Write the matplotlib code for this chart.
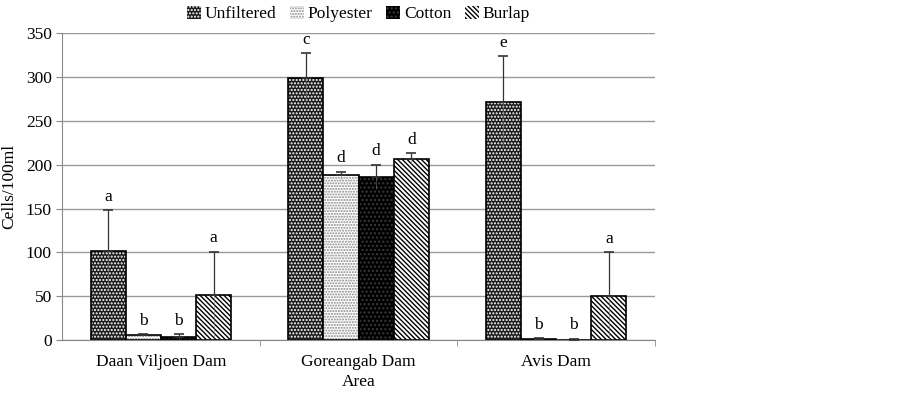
import numpy as np
import matplotlib.pyplot as plt
from matplotlib.patches import Patch

plt.rcParams['font.family'] = ['Liberation Serif', 'DejaVu Serif']
plt.rcParams['hatch.linewidth'] = 1.0

areas = ['Daan Viljoen Dam', 'Goreangab Dam', 'Avis Dam']
series = ['Unfiltered', 'Polyester', 'Cotton', 'Burlap']

unfiltered = [102, 299, 271]
polyester = [6, 188, 2]
cotton = [4, 186, 1]
burlap = [52, 206, 50]

unfiltered_err = [46, 28, 52]
polyester_err = [1, 4, 1]
cotton_err = [3, 14, 1]
burlap_err = [49, 7, 50]

unfiltered_lbl = ['a', 'c', 'e']
polyester_lbl = ['b', 'd', 'b']
cotton_lbl = ['b', 'd', 'b']
burlap_lbl = ['a', 'd', 'a']

values = [unfiltered, polyester, cotton, burlap]
errors = [unfiltered_err, polyester_err, cotton_err, burlap_err]
labels = [unfiltered_lbl, polyester_lbl, cotton_lbl, burlap_lbl]

# face, hatch colour, hatch
styles = [
    ('#1c1c1c', 'white', '.....'),
    ('white', '#888888', '......'),
    ('black', '#3a3a3a', '....'),
    ('white', 'black', '\\' * 7),
]

fig = plt.figure(figsize=(9.02, 3.94), dpi=100)
ax = fig.add_axes([0.069, 0.136, 0.657, 0.781])

x = np.arange(len(areas))
w = 0.178
offsets = [-1.5, -0.5, 0.5, 1.5]

handles = []
for i in range(4):
    xs = x + offsets[i] * w
    face, hc, hatch = styles[i]
    # pattern fill
    ax.bar(xs, values[i], w, facecolor=face, edgecolor=hc, hatch=hatch,
           linewidth=0, zorder=2)
    # outline
    ax.bar(xs, values[i], w, fill=False, edgecolor='black', linewidth=1.2, zorder=2)
    # upper error with cap
    ax.errorbar(xs, values[i], yerr=[np.zeros(3), errors[i]], fmt='none',
                ecolor='#333333', elinewidth=0.9, capsize=3.5, capthick=1.2, zorder=3)
    # lower half without cap
    ax.errorbar(xs, values[i], yerr=[errors[i], np.zeros(3)], fmt='none',
                ecolor='#777777', elinewidth=0.6, capsize=0, zorder=3, alpha=0.6)
    for j in range(3):
        ax.text(xs[j], values[i][j] + errors[i][j] + 6, labels[i][j],
                ha='center', va='bottom', fontsize=12.5)
    handles.append(Patch(facecolor=face, edgecolor=hc, hatch=hatch, linewidth=0))

ax.set_ylim(0, 350)
ax.set_yticks(range(0, 351, 50))
ax.set_xlim(-0.5, 2.5)
ax.set_xticks(x)
ax.set_xticklabels(areas)
ax.set_xticks([0.5, 1.5, 2.5], minor=True)
ax.tick_params(axis='x', which='major', length=0, pad=10, labelsize=12.5)
ax.tick_params(axis='x', which='minor', length=4, color='#888888')
ax.tick_params(axis='y', length=4, color='#888888', labelsize=12.5)

ax.yaxis.grid(True, color='#999999', linewidth=1)
ax.set_axisbelow(True)
for s in ['top', 'right']:
    ax.spines[s].set_visible(False)
ax.spines['left'].set_color('#888888')
ax.spines['bottom'].set_color('#888888')

ax.set_ylabel('Cells/100ml', fontsize=12.5, labelpad=6)
ax.set_xlabel('Area', fontsize=12.5, labelpad=3)

ax.legend(handles, series, loc='lower center', bbox_to_anchor=(0.5, 1.0), ncol=4,
          frameon=False, fontsize=12.5, handlelength=0.8, handleheight=0.8,
          handletextpad=0.2, columnspacing=0.8, borderaxespad=0.2)

fig.savefig('out.png', dpi=100)
